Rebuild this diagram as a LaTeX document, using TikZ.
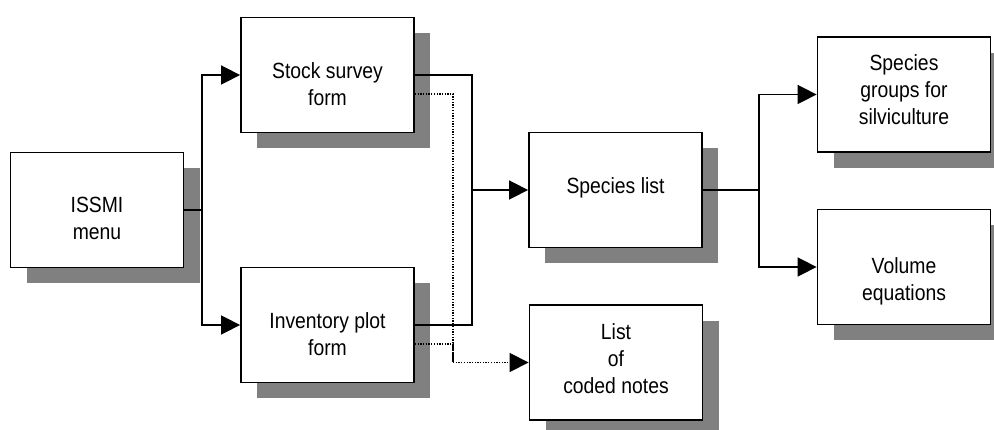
\documentclass[tikz,border=0pt]{standalone}
\usepackage{fontspec}
\setmainfont{Liberation Sans}[FakeStretch=0.88]
\usetikzlibrary{arrows.meta,shadows}
\definecolor{shadowgray}{RGB}{128,128,128}
\begin{document}
\begin{tikzpicture}[x=1pt,y=-1pt,
  box/.style={draw=black,line width=1.8pt,fill=white,minimum width=173pt,minimum height=115pt,inner sep=0pt,
    drop shadow={shadow xshift=16pt,shadow yshift=-16pt,opacity=1,fill=shadowgray}},
  txt/.style={font=\fontsize{22}{27}\selectfont,align=center,inner sep=0pt},
  conn/.style={line width=1.6pt},
  dots/.style={line width=1.3pt,dash pattern=on 1.3pt off 1.4pt},
  arr/.style={-{Triangle[length=19pt,width=19pt]}}]
\useasboundingbox (0,0) rectangle (994,430);
\clip (0,0) rectangle (994,430);
% boxes
\node[box] (issmi) at (97,210) {};
\node[box] (stock) at (327.5,75) {};
\node[box] (inv) at (327.5,325) {};
\node[box] (species) at (615.5,190) {};
\node[box] (notes) at (616,362.5) {};
\node[box] (groups) at (904,94.5) {};
\node[box] (volume) at (904,267) {};
% texts
\node[txt] (tissmi) at (97,218.5) {ISSMI\\menu};
\node[txt] (tstock) at (327.5,84) {Stock survey\\form};
\node[txt] (tinv) at (327.5,334.5) {Inventory plot\\form};
\node[txt] (tspecies) at (615.5,188) {Species list};
\node[txt] (tnotes) at (616,358.5) {List\\of\\coded notes};
\node[txt] (tgroups) at (904,89.5) {Species\\groups for\\silviculture};
\node[txt] (tvolume) at (904,281) {Volume\\equations};
% junctions
\coordinate (j1) at (202,210);
\coordinate (j2) at (472,190);
\coordinate (j3) at (453,362.5);
\coordinate (j4) at (759,190);
% connectors
\draw[conn] (issmi.east) -- (j1);
\draw[conn,arr] (j1) |- (stock.west);
\draw[conn,arr] (j1) |- (inv.west);
\draw[conn] (stock.east) -| (j2);
\draw[conn] (inv.east) -| (j2);
\draw[conn,arr] (j2) -- (species.west);
\draw[dots] ([yshift=-19pt]stock.east) -| (j3);
\draw[dots] ([yshift=-19pt]inv.east) -| (j3);
\draw[dots,arr] (j3) -- (notes.west);
\draw[conn] (species.east) -- (j4);
\draw[conn,arr] (j4) |- (groups.west);
\draw[conn,arr] (j4) |- (volume.west);
\end{tikzpicture}
\end{document}
